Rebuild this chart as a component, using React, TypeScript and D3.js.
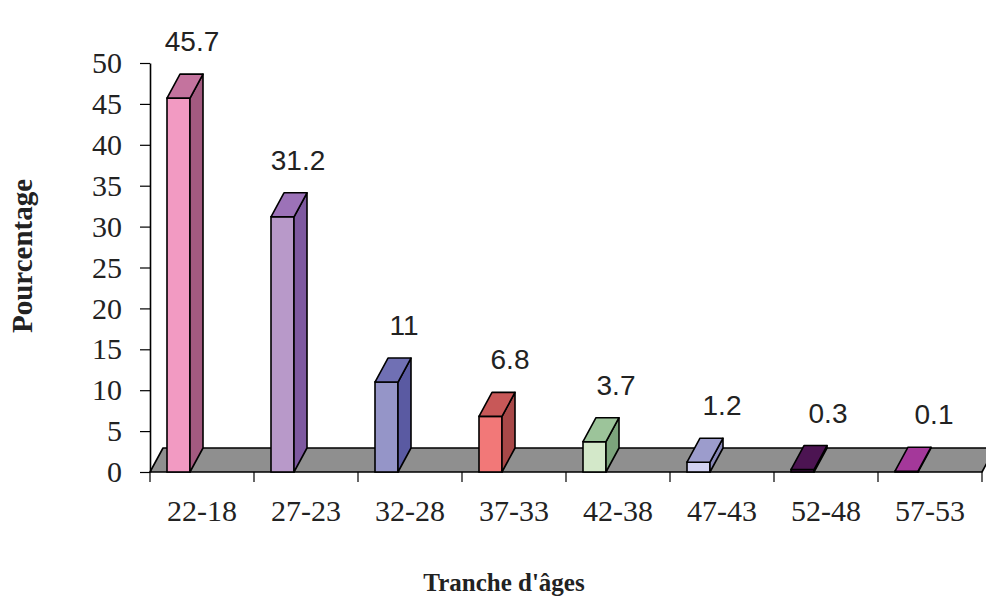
import React, { useEffect, useRef } from "react";
import * as d3 from "d3";

const ageGroups = ["22-18", "27-23", "32-28", "37-33", "42-38", "47-43", "52-48", "57-53"];
const percentages = [45.7, 31.2, 11, 6.8, 3.7, 1.2, 0.3, 0.1];
const yTicks = [0, 5, 10, 15, 20, 25, 30, 35, 40, 45, 50];

const frontColors = ["#F29AC2", "#B899C9", "#9595C8", "#F27878", "#D3E8C9", "#D2D2F2", "#4C1452", "#A4389A"];
const topColors = ["#C4739E", "#9C72B8", "#7070B4", "#C85858", "#9CC49A", "#9C9CCC", "#4C1452", "#A4389A"];
const sideColors = ["#A35A80", "#7E59A0", "#5A5AA2", "#A84848", "#7CA47C", "#8888B8", "#3A0E40", "#862C7E"];

const App: React.FC = () => {
  const svgRef = useRef<SVGSVGElement | null>(null);

  useEffect(() => {
    if (!svgRef.current) return;
    const svg = d3.select(svgRef.current);
    svg.selectAll("*").remove();

    const width = 986;
    const height = 596;
    const left = 150;
    const right = 982;
    const top = 63;
    const bottom = 472;
    const dx = 13;
    const dy = -24;
    const serif = "'Liberation Serif', 'Times New Roman', serif";
    const sans = "'Liberation Sans', Arial, sans-serif";

    svg.attr("width", width).attr("height", height);

    const x = d3.scaleBand<string>().domain(ageGroups).range([left, right]).padding(0);
    const y = d3.scaleLinear().domain([0, 50]).range([bottom, top]);

    // floor
    svg
      .append("polygon")
      .attr(
        "points",
        [
          [left, bottom],
          [right, bottom],
          [right + dx, bottom + dy],
          [left + dx, bottom + dy],
        ]
          .map((p) => p.join(","))
          .join(" ")
      )
      .attr("fill", "#8F8F8F")
      .attr("stroke", "#000")
      .attr("stroke-width", 1.6)
      .attr("stroke-linejoin", "round");

    // y axis
    const yAxis = d3
      .axisLeft(y)
      .tickValues(yTicks)
      .tickSize(10)
      .tickPadding(18)
      .tickSizeOuter(0);
    const yg = svg.append("g").attr("transform", `translate(${left},0)`).call(yAxis);
    yg.select(".domain").attr("stroke", "#000").attr("stroke-width", 1.6);
    yg.selectAll(".tick line").attr("stroke", "#000").attr("stroke-width", 1.2);
    yg.selectAll(".tick text")
      .attr("font-family", serif)
      .attr("font-size", 30)
      .attr("fill", "#222");

    // x ticks at category boundaries
    const bounds = ageGroups.map((c) => x(c) as number).concat([right]);
    svg
      .append("g")
      .selectAll("line")
      .data(bounds)
      .enter()
      .append("line")
      .attr("x1", (d) => d)
      .attr("x2", (d) => d)
      .attr("y1", bottom)
      .attr("y2", bottom + 10)
      .attr("stroke", "#000")
      .attr("stroke-width", 1.2);

    svg
      .append("g")
      .selectAll("text")
      .data(ageGroups)
      .enter()
      .append("text")
      .attr("x", (d) => (x(d) as number) + x.bandwidth() / 2)
      .attr("y", 521)
      .attr("text-anchor", "middle")
      .attr("font-family", serif)
      .attr("font-size", 30)
      .attr("fill", "#222")
      .text((d) => d);

    // bars
    const barOffset = 17;
    const barWidth = 23;
    const bars = svg
      .append("g")
      .selectAll("g")
      .data(percentages)
      .enter()
      .append("g");

    const pts = (arr: number[][]) => arr.map((p) => p.join(",")).join(" ");

    bars.each(function (v, i) {
      const g = d3.select(this);
      const x0 = (x(ageGroups[i]) as number) + barOffset;
      const x1 = x0 + barWidth;
      const yt = y(v);
      g.append("rect")
        .attr("x", x0)
        .attr("y", yt)
        .attr("width", barWidth)
        .attr("height", bottom - yt)
        .attr("fill", frontColors[i])
        .attr("stroke", "#000")
        .attr("stroke-width", 1.6);
      g.append("polygon")
        .attr("points", pts([[x1, bottom], [x1 + dx, bottom + dy], [x1 + dx, yt + dy], [x1, yt]]))
        .attr("fill", sideColors[i])
        .attr("stroke", "#000")
        .attr("stroke-width", 1.6)
        .attr("stroke-linejoin", "round");
      g.append("polygon")
        .attr("points", pts([[x0, yt], [x0 + dx, yt + dy], [x1 + dx, yt + dy], [x1, yt]]))
        .attr("fill", topColors[i])
        .attr("stroke", "#000")
        .attr("stroke-width", 1.6)
        .attr("stroke-linejoin", "round");
    });

    // value labels
    svg
      .append("g")
      .selectAll("text")
      .data(percentages)
      .enter()
      .append("text")
      .attr("x", (d, i) => (x(ageGroups[i]) as number) + 42 + i * 2)
      .attr("y", (d) => y(d) + dy - 23)
      .attr("text-anchor", "middle")
      .attr("font-family", sans)
      .attr("font-size", 28)
      .attr("fill", "#222")
      .text((d) => String(d));

    // axis titles
    svg
      .append("text")
      .attr("transform", "rotate(-90)")
      .attr("x", -256)
      .attr("y", 32)
      .attr("text-anchor", "middle")
      .attr("font-family", serif)
      .attr("font-weight", "bold")
      .attr("font-size", 29)
      .attr("fill", "#222")
      .text("Pourcentage");

    svg
      .append("text")
      .attr("x", 504)
      .attr("y", 591)
      .attr("text-anchor", "middle")
      .attr("font-family", serif)
      .attr("font-weight", "bold")
      .attr("font-size", 25)
      .attr("fill", "#222")
      .text("Tranche d'âges");
  }, []);

  return (
    <svg
      ref={svgRef}
      style={{ position: "absolute", left: 0, top: 0, background: "#fff" }}
    ></svg>
  );
};

export default App;
